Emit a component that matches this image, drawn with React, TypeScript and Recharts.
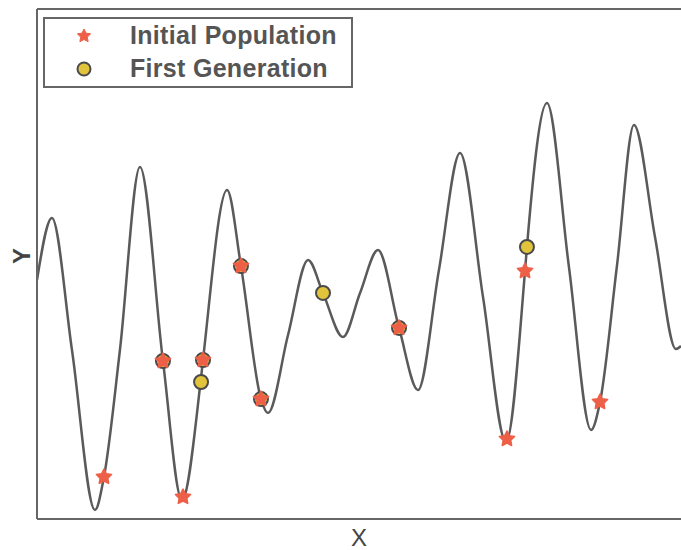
import {
  ComposedChart,
  Line,
  Scatter,
  XAxis,
  YAxis,
  Legend,
  Label,
} from "recharts";

// fitness landscape
const curveX = [
  0, 0.115, 0.269, 0.446, 0.515, 0.638, 0.792, 0.969, 1.115, 1.258, 1.277,
  1.462, 1.569, 1.723, 1.777, 1.931, 2.085, 2.2, 2.354, 2.485, 2.623, 2.785,
  2.931, 3.092, 3.254, 3.431, 3.608, 3.754, 3.769, 3.923, 4.092, 4.262, 4.331,
  4.462, 4.592, 4.754, 4.915, 4.954,
];
const curveY = [
  2.343, 2.951, 1.657, 0.088, 0.412, 1.657, 3.451, 1.549, 0.186, 1.343, 1.559,
  3.225, 2.48, 1.176, 1.039, 1.804, 2.539, 2.216, 1.784, 2.216, 2.637, 1.873,
  1.265, 2.441, 3.588, 2.176, 0.755, 2.431, 2.667, 4.078, 2.471, 0.873, 1.147,
  2.49, 3.863, 2.765, 1.667, 1.696,
];

const initialX = [0.515, 1.123, 0.969, 1.277, 1.569, 1.723, 2.785, 3.615, 3.754, 4.331];
const initialY = [0.412, 0.216, 1.549, 1.559, 2.48, 1.176, 1.873, 0.784, 2.431, 1.147];

const firstGenX = [0.969, 1.277, 1.262, 1.569, 1.723, 2.2, 2.785, 3.769];
const firstGenY = [1.549, 1.559, 1.343, 2.48, 1.176, 2.216, 1.873, 2.667];

const xTicks = [0, 1, 2, 3, 4];
const yTicks = [0, 1, 2, 3, 4, 5];

const curve = curveX.map((x, i) => ({ x, y: curveY[i] }));
const initial = initialX.map((x, i) => ({ x, y: initialY[i] }));
const firstGen = firstGenX.map((x, i) => ({ x, y: firstGenY[i] }));

const starColor = "#ee5f48";
const circleFill = "#e2c33c";
const inkColor = "#555";
const font = "'Liberation Sans', Arial, sans-serif";

function starPoints(cx: number, cy: number, outer: number, inner: number) {
  const pts: string[] = [];
  for (let i = 0; i < 10; i++) {
    const r = i % 2 === 0 ? outer : inner;
    const a = -Math.PI / 2 + (i * Math.PI) / 5;
    pts.push(`${cx + r * Math.cos(a)},${cy + r * Math.sin(a)}`);
  }
  return pts.join(" ");
}

const StarShape = (props: any) => (
  <polygon
    points={starPoints(props.cx, props.cy, 8, 4)}
    fill={starColor}
    stroke={starColor}
    strokeWidth={1.5}
    strokeLinejoin="round"
  />
);

const CircleShape = (props: any) => (
  <circle cx={props.cx} cy={props.cy} r={7} fill={circleFill} stroke="#4a4a4a" strokeWidth={2} />
);

const LegendBox = () => (
  <div
    style={{
      width: 306,
      height: 67,
      border: "2px solid #666",
      background: "#fff",
      fontFamily: font,
      fontSize: 25,
      fontWeight: "bold",
      letterSpacing: 0.3,
      color: inkColor,
      boxSizing: "content-box",
    }}
  >
    {[
      { label: "Initial Population", kind: "star" },
      { label: "First Generation", kind: "circle" },
    ].map((item) => (
      <div key={item.label} style={{ display: "flex", alignItems: "center", height: 33 }}>
        <svg width={85} height={30}>
          {item.kind === "star" ? (
            <polygon points={starPoints(39, 15, 7, 3.5)} fill={starColor} stroke={starColor} strokeWidth={1} />
          ) : (
            <circle cx={39} cy={15} r={6.5} fill={circleFill} stroke="#4a4a4a" strokeWidth={2} />
          )}
        </svg>
        <span>{item.label}</span>
      </div>
    ))}
  </div>
);

export default function App() {
  return (
    <div style={{ position: "absolute", left: 0, top: 0, background: "#fff" }}>
      <ComposedChart width={681} height={550} margin={{ top: 0, right: 0, bottom: 0, left: 0 }}>
        <XAxis
          dataKey="x"
          type="number"
          domain={[0, 4.954]}
          ticks={xTicks}
          allowDataOverflow
          tick={false}
          tickSize={-5}
          height={31}
          axisLine={{ stroke: "#666", strokeWidth: 2 }}
          tickLine={{ stroke: "#666", strokeWidth: 1.5 }}
        >
          <Label
            value="X"
            position="insideBottom"
            offset={4}
            style={{ fontFamily: font, fontSize: 24, fill: "#444" }}
          />
        </XAxis>
        <XAxis
          xAxisId="top"
          orientation="top"
          type="number"
          domain={[0, 4.954]}
          ticks={xTicks}
          allowDataOverflow
          tick={false}
          tickSize={-5}
          height={9}
          axisLine={{ stroke: "#666", strokeWidth: 2 }}
          tickLine={{ stroke: "#666", strokeWidth: 1.5 }}
        />
        <YAxis
          type="number"
          domain={[0, 5]}
          ticks={yTicks}
          allowDataOverflow
          tick={false}
          tickSize={-5}
          width={37}
          axisLine={{ stroke: "#666", strokeWidth: 2 }}
          tickLine={{ stroke: "#666", strokeWidth: 1.5 }}
        >
          <Label
            value="Y"
            angle={-90}
            position="insideLeft"
            offset={21}
            style={{ fontFamily: font, fontSize: 24, fontWeight: "bold", fill: "#444" }}
          />
        </YAxis>
        <YAxis
          yAxisId="right"
          orientation="right"
          type="number"
          domain={[0, 5]}
          ticks={yTicks}
          allowDataOverflow
          tick={false}
          tickSize={-4}
          width={0}
          axisLine={{ stroke: "#666", strokeWidth: 2 }}
          tickLine={{ stroke: "#666", strokeWidth: 1.5 }}
        />
        <Legend
          layout="horizontal"
          verticalAlign="middle"
          align="center"
          content={<LegendBox />}
          wrapperStyle={{ left: 43, top: 17, width: 310 }}
        />
        <Line
          data={curve}
          dataKey="y"
          type="monotone"
          stroke="#5a5a5a"
          strokeWidth={2.5}
          dot={false}
          legendType="none"
          isAnimationActive={false}
        />
        <Scatter
          data={firstGen}
          dataKey="y"
          name="First Generation"
          shape={<CircleShape />}
          isAnimationActive={false}
        />
        <Scatter
          data={initial}
          dataKey="y"
          name="Initial Population"
          shape={<StarShape />}
          isAnimationActive={false}
        />
      </ComposedChart>
    </div>
  );
}
